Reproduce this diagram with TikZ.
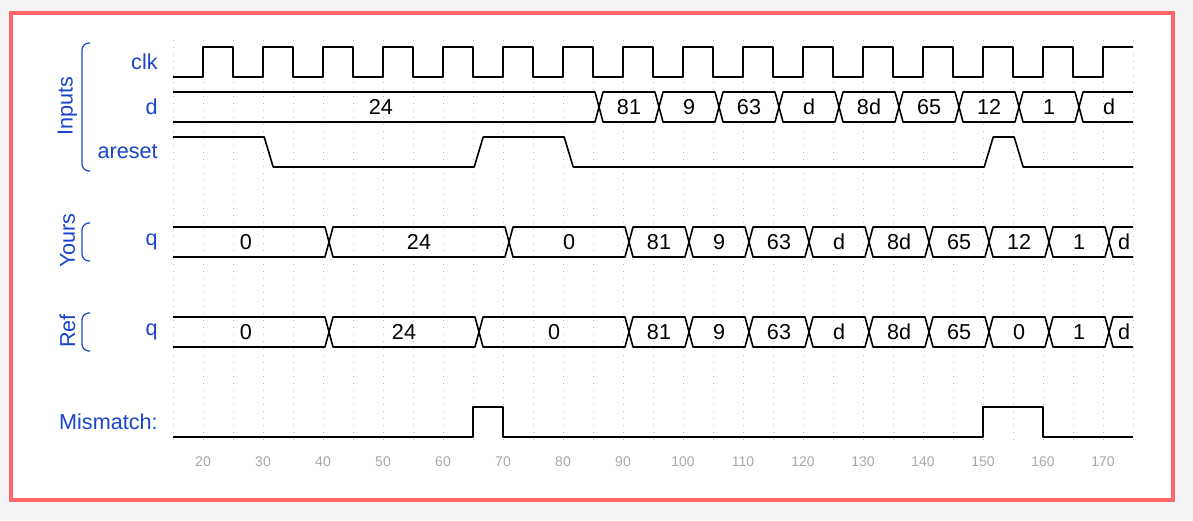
\documentclass[tikz,border=0pt]{standalone}
\usepackage{fontspec}
\setmainfont{Liberation Sans}
\definecolor{pagegray}{HTML}{F4F4F4}
\definecolor{framered}{HTML}{FF6666}
\definecolor{labelblue}{HTML}{1A44CC}
\definecolor{gridgray}{HTML}{BDBDBD}
\definecolor{tickgray}{HTML}{A8A8A8}
\tikzset{
  wave/.style={black,line width=.8pt,line join=round},
  wave grid/.style={gridgray,line width=.5pt,dash pattern=on .5pt off 3pt},
  wave frame/.style={draw=framered,line width=2pt,fill=white},
  sig name/.style={text=labelblue,anchor=east,inner sep=0pt},
  group name/.style={text=labelblue,rotate=90,inner sep=0pt},
  group brace/.style={labelblue,line width=.6pt,rounded corners=3.5pt},
  bus value/.style={inner sep=0pt},
  tick value/.style={text=tickgray,font=\fontsize{7}{8}\selectfont,inner sep=0pt}
}
% one bus row: name, top edge, list start/end/value
\newcommand\busrow[3]{%
  \foreach \a/\b/\v [count=\i] in {#3}{
    \draw[wave] (\a+1,#2+15) -- (\a+1.67,#2) -- (\b+.33,#2)
      -- (\b+1,#2+15) -- (\b+.33,#2+30) -- (\a+1.67,#2+30) -- cycle;
    \node[bus value] (#1-\i) at ({(\a+\b)/2+1},#2+15) {\v};
  }}

\begin{document}
\begin{tikzpicture}[x=.5pt,y=-.5pt,font=\fontsize{10.8}{13}\selectfont]
  \fill[pagegray] (0,0) rectangle (1193,520);
  \draw[wave frame] (11,13) rectangle (1173,500);
  % groups
  \node[group name] (grp-inputs) at (67.5,106) {Inputs};
  \node[group name] (grp-yours) at (67.5,240.5) {Yours};
  \node[group name] (grp-ref) at (67.5,331) {Ref};
  \draw[group brace] (90,43) -- (82,43) -- (82,171) -- (90,171);
  \draw[group brace] (90,223) -- (82,223) -- (82,261) -- (90,261);
  \draw[group brace] (90,313) -- (82,313) -- (82,351) -- (90,351);
  % signal names
  \node[sig name] (name-clk) at (158,62) {clk};
  \node[sig name] (name-d) at (158,107) {d};
  \node[sig name] (name-areset) at (158,152) {areset};
  \node[sig name] (name-qy) at (158,242) {q};
  \node[sig name] (name-qr) at (158,332) {q};
  \node[sig name] (name-mismatch) at (158,422) {Mismatch:};
  \begin{scope}[x=3pt,xshift=41.5pt]
    \foreach \t in {15,20,...,175}
      \draw[wave grid] (\t,40) -- (\t,443);
    \foreach \t in {20,30,...,170}
      \node[tick value] (tick-\t) at (\t,462) {\t};
    \clip (15,0) rectangle (175,520);
    \draw[wave] (15,77) \foreach \t in {20,30,...,160}{
      -- (\t,77) -- (\t,47) -- (\t+5,47) -- (\t+5,77)}
      -- (170,77) -- (170,47) -- (175,47);
    \busrow{d}{92}{12.3/85/24,85/95/81,95/105/9,105/115/63,115/125/d,
      125/135/8d,135/145/65,145/155/12,155/165/1,165/175/d}
    \draw[wave] (15,137) -- (30.2,137) -- (31.7,167) -- (65.2,167)
      -- (66.7,137) -- (80.2,137) -- (81.7,167) -- (150.2,167)
      -- (151.7,137) -- (155.2,137) -- (156.7,167) -- (175,167);
    \busrow{qy}{227}{12.3/40/0,40/70/24,70/90/0,90/100/81,100/110/9,
      110/120/63,120/130/d,130/140/8d,140/150/65,150/160/12,160/170/1,170/175/d}
    \busrow{qr}{317}{12.3/40/0,40/65/24,65/90/0,90/100/81,100/110/9,
      110/120/63,120/130/d,130/140/8d,140/150/65,150/160/0,160/170/1,170/175/d}
    \draw[wave] (15,437) -- (65,437) -- (65,407) -- (70,407) -- (70,437)
      -- (150,437) -- (150,407) -- (160,407) -- (160,437) -- (175,437);
  \end{scope}
\end{tikzpicture}
\end{document}
